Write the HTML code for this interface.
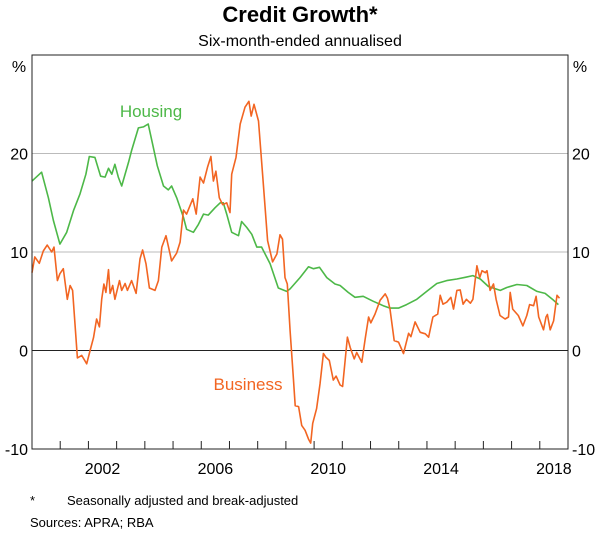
<!DOCTYPE html>
<html><head><meta charset="utf-8"><style>
body{margin:0;background:#fff;font-family:"Liberation Sans",Arial,sans-serif;}
svg text{font-family:"Liberation Sans",Arial,sans-serif;}
</style></head><body>
<svg id="chart" width="600" height="533" viewBox="0 0 600 533" xmlns="http://www.w3.org/2000/svg">
<text x="300" y="22" text-anchor="middle" font-size="22" font-weight="bold">Credit Growth*</text>
<text x="300" y="46" text-anchor="middle" font-size="16">Six-month-ended annualised</text>
<text x="19" y="72" text-anchor="middle" font-size="16">%</text>
<text x="580" y="72" text-anchor="middle" font-size="16">%</text>
<g id="grid"></g>
<g id="series"></g>
<rect x="32" y="55" width="536" height="394" fill="none" stroke="#222" stroke-width="1"/>
<g id="axes"></g>
<text x="151" y="117" text-anchor="middle" font-size="17" fill="#4db848">Housing</text>
<text x="248" y="390" text-anchor="middle" font-size="17" fill="#f26522">Business</text>
<text x="30" y="505" font-size="13">*</text>
<text x="67" y="505" font-size="13">Seasonally adjusted and break-adjusted</text>
<text x="30" y="527" font-size="13">Sources: APRA; RBA</text>
</svg>
<script>
const yTicks=[-10,0,10,20];
const yearLabels=[2002,2006,2010,2014,2018];
const housingDates=[2000.0,2000.34,2000.58,2000.76,2000.99,2001.23,2001.47,2001.70,2001.91,2002.03,2002.23,2002.43,2002.59,2002.71,2002.83,2002.94,2003.06,2003.18,2003.42,2003.53,2003.77,2003.95,2004.12,2004.28,2004.44,2004.66,2004.83,2004.95,2005.13,2005.37,2005.48,2005.72,2005.90,2006.08,2006.25,2006.49,2006.67,2006.78,2006.90,2007.08,2007.32,2007.43,2007.61,2007.79,2007.97,2008.14,2008.44,2008.73,2009.03,2009.15,2009.50,2009.80,2009.98,2010.19,2010.45,2010.74,2010.92,2011.21,2011.45,2011.74,2012.10,2012.45,2012.69,2012.99,2013.28,2013.64,2013.99,2014.35,2014.70,2015.06,2015.36,2015.63,2015.89,2016.18,2016.60,2016.83,2017.19,2017.54,2017.90,2018.19,2018.49,2018.66];
const housingValues=[17.2,18.1,15.5,13.2,10.8,12.0,14.2,15.9,17.9,19.7,19.6,17.7,17.6,18.5,17.9,18.9,17.6,16.7,19.1,20.3,22.6,22.7,23.0,20.9,18.75,16.7,16.3,16.7,15.5,13.5,12.3,12.0,12.8,13.85,13.75,14.5,15.0,15.0,13.85,12.0,11.65,13.1,12.5,11.8,10.5,10.5,8.8,6.35,6.0,6.25,7.4,8.5,8.3,8.45,7.4,6.75,6.6,5.9,5.4,5.5,5.0,4.55,4.3,4.3,4.66,5.2,6.0,6.8,7.1,7.26,7.43,7.6,7.26,6.5,6.1,6.4,6.7,6.6,6.0,5.8,5.1,4.66];
const businessDates=[2000.0,2000.1,2000.26,2000.40,2000.54,2000.70,2000.78,2000.90,2000.99,2001.11,2001.25,2001.35,2001.44,2001.61,2001.76,2001.94,2002.06,2002.18,2002.29,2002.39,2002.47,2002.55,2002.62,2002.71,2002.77,2002.86,2002.94,2003.10,2003.18,2003.30,2003.38,2003.53,2003.69,2003.83,2003.92,2004.04,2004.16,2004.36,2004.48,2004.60,2004.75,2004.95,2005.13,2005.25,2005.37,2005.48,2005.70,2005.82,2005.96,2006.08,2006.22,2006.34,2006.43,2006.52,2006.64,2006.76,2006.90,2007.02,2007.08,2007.23,2007.38,2007.55,2007.69,2007.77,2007.87,2008.03,2008.18,2008.35,2008.53,2008.68,2008.79,2008.88,2008.97,2009.05,2009.15,2009.27,2009.33,2009.45,2009.56,2009.68,2009.80,2009.88,2009.95,2010.09,2010.21,2010.33,2010.42,2010.54,2010.68,2010.78,2010.92,2011.01,2011.18,2011.28,2011.42,2011.51,2011.69,2011.81,2011.93,2012.01,2012.16,2012.34,2012.52,2012.60,2012.69,2012.84,2012.99,2013.17,2013.35,2013.43,2013.58,2013.76,2013.94,2014.06,2014.21,2014.38,2014.47,2014.57,2014.70,2014.85,2014.94,2015.06,2015.18,2015.28,2015.40,2015.54,2015.63,2015.77,2015.87,2015.95,2016.07,2016.13,2016.24,2016.36,2016.45,2016.59,2016.77,2016.89,2016.95,2017.04,2017.24,2017.40,2017.54,2017.64,2017.78,2017.87,2017.96,2018.13,2018.22,2018.27,2018.37,2018.49,2018.61,2018.70];
const businessValues=[7.9,9.5,8.85,10.1,10.7,10.0,10.5,7.1,7.8,8.3,5.2,6.6,6.1,-0.75,-0.5,-1.35,0,1.3,3.2,2.4,5.2,6.75,5.9,8.2,5.8,6.6,5.2,7.1,6.1,6.8,6.1,7.1,5.8,9.3,10.2,8.8,6.35,6.1,7.1,10.5,11.65,9.1,9.9,11.0,14.25,13.85,15.4,13.85,17.6,17.0,18.6,19.7,17.2,18.2,15.5,14.8,15.0,14.0,17.9,19.6,23.0,24.7,25.3,23.8,25.0,23.3,17.6,11.15,9.0,9.8,11.75,11.3,7.4,6.75,2.0,-3.0,-5.6,-5.7,-7.6,-8.1,-9.0,-9.4,-7.4,-5.9,-3.4,-0.3,-0.7,-1.0,-3.0,-2.6,-3.5,-3.65,1.35,0.3,-0.85,-0.2,-1.2,1.2,3.4,2.8,3.7,5.1,5.75,5.3,4.2,1.0,0.85,-0.3,1.75,1.4,2.9,1.85,1.7,1.35,3.4,3.7,5.6,4.7,4.9,5.4,4.2,6.1,6.15,4.7,5.2,4.8,5.2,8.6,7.4,8.1,7.9,8.1,6.1,6.75,5.2,3.55,3.2,3.4,5.9,4.2,3.55,2.5,3.55,4.66,4.55,5.5,3.4,2.1,3.4,3.65,2.1,3.0,5.6,5.3];

const NS='http://www.w3.org/2000/svg';
const X0=32,X1=568,Y0=55,Y1=449,T0=2000,T1=2019,V0=-10,V1=30;
function xs(t){return X0+(t-T0)/(T1-T0)*(X1-X0);}
function ys(v){return Y1-(v-V0)/(V1-V0)*(Y1-Y0);}
function mk(tag,attrs,parent){const e=document.createElementNS(NS,tag);for(const k in attrs)e.setAttribute(k,attrs[k]);parent.appendChild(e);return e;}
const grid=document.getElementById('grid'),axes=document.getElementById('axes'),series=document.getElementById('series');
yTicks.forEach(v=>{
  if(v!==V0){
    const l=mk('line',{x1:X0,x2:X1,y1:ys(v),y2:ys(v),stroke:v===0?'#222':'#bbb','stroke-width':1},grid);
    
    
  }
  const a=mk('text',{x:28,y:ys(v)+6,'text-anchor':'end','font-size':16},axes);a.textContent=v;
  
  
  const b=mk('text',{x:572,y:ys(v)+6,'text-anchor':'start','font-size':16},axes);b.textContent=v;
  
  
});
for(let y=T0+1;y<T1;y++){
  const t=mk('line',{x1:xs(y),x2:xs(y),y1:Y1,y2:Y1-8,stroke:'#222','stroke-width':1},axes);
  
  
}
yearLabels.forEach(y=>{
  const t=mk('text',{x:xs(y+0.5),y:474,'text-anchor':'middle','font-size':16},axes);t.textContent=y;
  
  
});
function line(d,v,color,name){
  const p=d.map((t,i)=>(i?'L':'M')+xs(t).toFixed(1)+','+ys(v[i]).toFixed(1)).join('');
  const e=mk('path',{d:p,fill:'none',stroke:color,'stroke-width':1.6,'stroke-linejoin':'round'},series);
  
  
}
line(housingDates,housingValues,'#4db848','housing-line');
line(businessDates,businessValues,'#f26522','business-line');
</script>
</body></html>
